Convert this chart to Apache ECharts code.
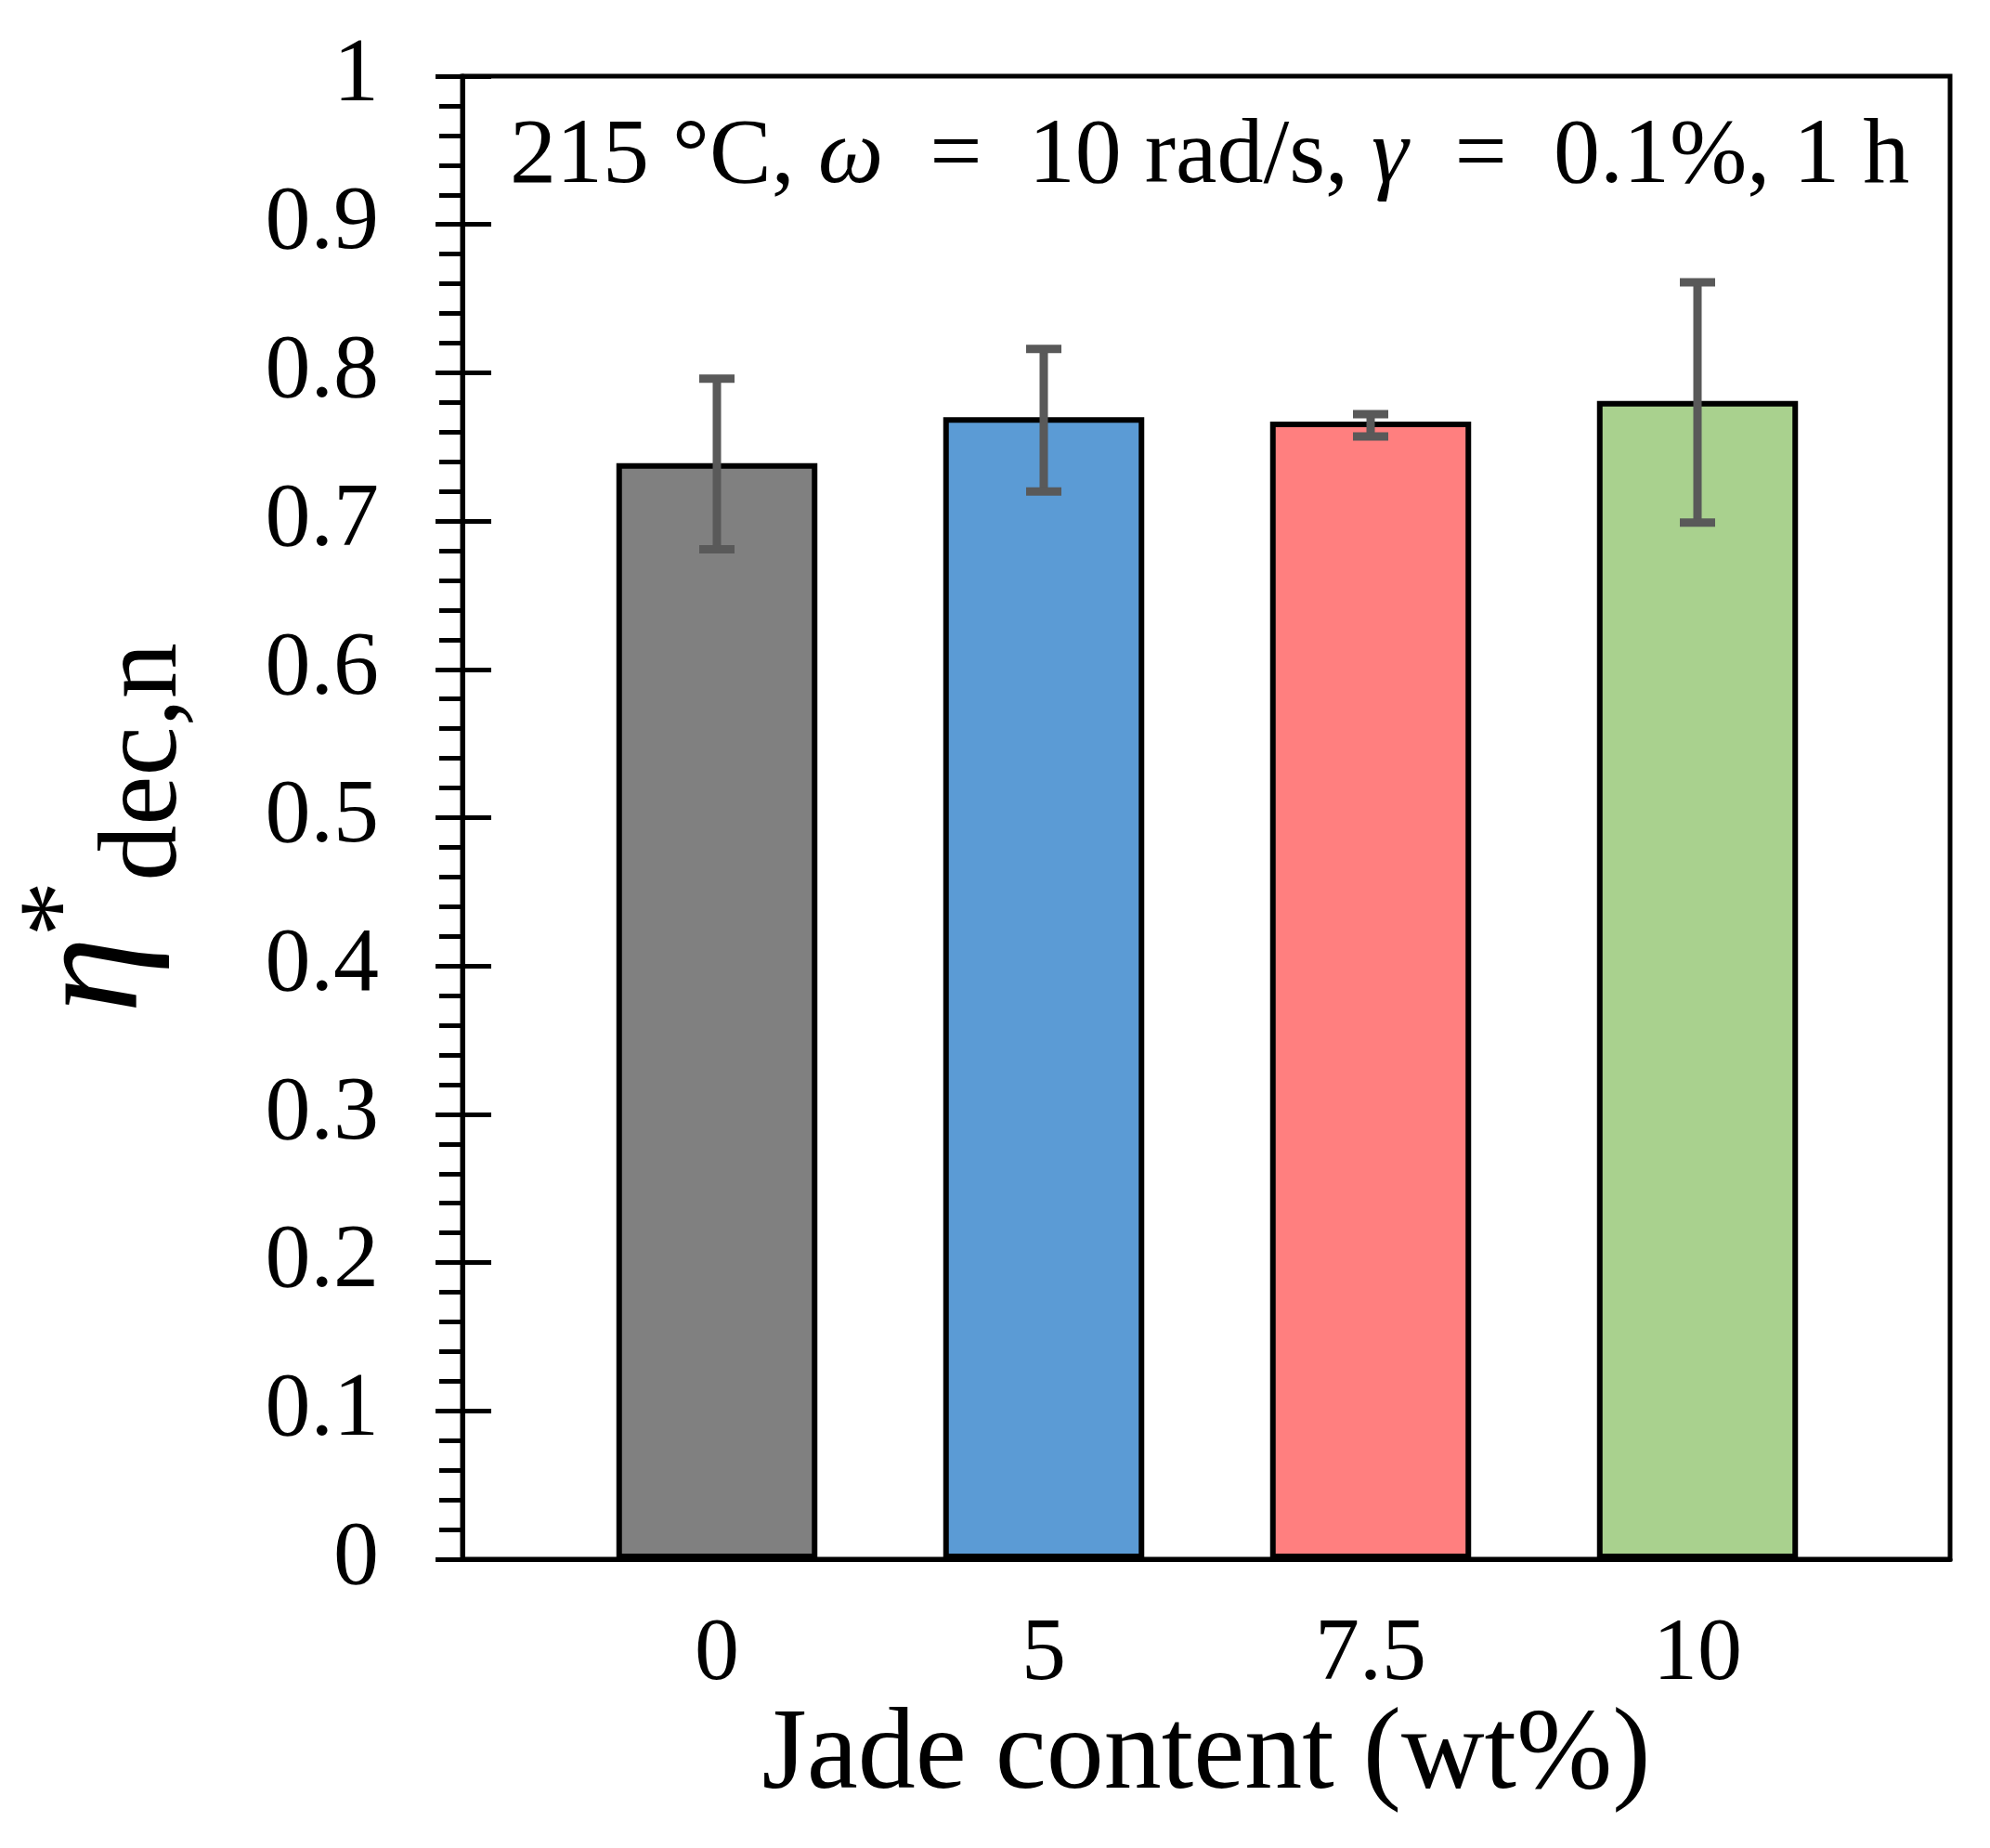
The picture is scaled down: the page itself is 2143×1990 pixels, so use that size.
<!DOCTYPE html>
<html>
<head>
<meta charset="utf-8">
<script src="https://cdn.jsdelivr.net/npm/echarts@6/dist/echarts.min.js"></script>
<style>html,body{margin:0;padding:0;background:#fff;}#c{width:2143px;height:1990px;}</style>
</head>
<body>
<div id="c"></div>
<script>
const categories = ['0', '5', '7.5', '10'];
const values = [0.739, 0.770, 0.767, 0.781];
const errLow = [0.681, 0.720, 0.757, 0.699];
const errHigh = [0.796, 0.816, 0.772, 0.861];
const barColors = ['#808080', '#5B9BD5', '#FF7F7F', '#A9D18E'];
const yTicks = [0, 0.1, 0.2, 0.3, 0.4, 0.5, 0.6, 0.7, 0.8, 0.9, 1];

const FONT = 'Liberation Serif';
const LW = 5;
const chart = echarts.init(document.getElementById('c'), null, {renderer: 'canvas'});

const option = {
  backgroundColor: '#fff',
  animation: false,
  title: {
    text: '215 °C, {i|ω}  =  10 rad/s, {i|γ}  =  0.1%, 1 h',
    left: 544, top: 115,
    textStyle: {
      fontFamily: FONT, fontSize: 100, fontWeight: 'normal', color: '#000', lineHeight: 100,
      rich: { i: { fontFamily: FONT, fontSize: 100, fontStyle: 'italic', color: '#000', lineHeight: 100 } }
    }
  },
  grid: [
    { left: 498, right: 43, top: 82, bottom: 311, show: true, borderColor: '#000', borderWidth: LW, backgroundColor: 'transparent', outerBoundsMode: 'none' },
    { left: 596, right: 139, top: 82, bottom: 311, outerBoundsMode: 'none' }
  ],
  xAxis: [
    { gridIndex: 0, type: 'value', min: 0, max: 1, show: true,
      axisLine: { show: true, lineStyle: { color: '#000', width: LW } },
      axisTick: { show: false }, axisLabel: { show: false }, splitLine: { show: false },
      name: 'Jade content (wt%)', nameLocation: 'middle', nameGap: 151,
      nameTextStyle: { fontFamily: FONT, fontSize: 124, color: '#000', lineHeight: 124 } },
    { gridIndex: 1, type: 'category', data: categories, boundaryGap: true,
      axisLine: { show: false }, axisTick: { show: false }, splitLine: { show: false },
      axisLabel: { fontFamily: FONT, fontSize: 96, color: '#000', margin: 56, lineHeight: 96 } }
  ],
  yAxis: [
    { gridIndex: 0, type: 'value', position: 'left', min: yTicks[0], max: yTicks[yTicks.length - 1], interval: 0.1,
      axisLine: { show: true, lineStyle: { color: '#000', width: LW } },
      axisTick: { show: true, inside: false, length: 29, lineStyle: { color: '#000', width: LW } },
      minorTick: { show: true, splitNumber: 5, length: 25, lineStyle: { color: '#000', width: LW } },
      splitLine: { show: false },
      axisLabel: { fontFamily: FONT, fontSize: 98, color: '#000', margin: 90, lineHeight: 98,
        formatter: v => String(+v.toFixed(1)) },
      name: '{eta|η}{sup|*}{sub|dec,n}', nameLocation: 'middle', nameRotate: 90, nameGap: 312,
      nameTextStyle: {
        rich: {
          eta: { fontFamily: FONT, fontStyle: 'italic', fontSize: 165, lineHeight: 165, color: '#000' },
          sup: { fontFamily: FONT, fontSize: 120, lineHeight: 120, color: '#000', padding: [0, 0, 64, 0] },
          sub: { fontFamily: FONT, fontSize: 120, lineHeight: 120, color: '#000', padding: [107, 22, 0, 0] }
        }
      } },
    { gridIndex: 0, type: 'value', position: 'left', offset: 0, min: 0, max: 1, interval: 0.1,
      axisLine: { show: false },
      axisTick: { show: true, inside: true, length: 31, lineStyle: { color: '#000', width: LW } },
      axisLabel: { show: false }, splitLine: { show: false } },
    { gridIndex: 1, type: 'value', min: 0, max: 1, show: false }
  ],
  series: [
    { type: 'bar', xAxisIndex: 1, yAxisIndex: 2, barWidth: '61.5%',
      data: values.map((v, i) => ({ value: v, itemStyle: { color: barColors[i] } })),
      itemStyle: { borderColor: '#000', borderWidth: 6 } },
    { type: 'custom', xAxisIndex: 1, yAxisIndex: 2, z: 5,
      data: categories.map((c, i) => [i, errLow[i], errHigh[i]]),
      renderItem: function (params, api) {
        const x = api.value(0);
        const lo = api.coord([x, api.value(1)]);
        const hi = api.coord([x, api.value(2)]);
        const hw = 19;
        const st = { stroke: '#595959', lineWidth: 9 };
        return { type: 'group', children: [
          { type: 'line', shape: { x1: lo[0], y1: lo[1], x2: hi[0], y2: hi[1] }, style: st },
          { type: 'line', shape: { x1: lo[0] - hw, y1: lo[1], x2: lo[0] + hw, y2: lo[1] }, style: st },
          { type: 'line', shape: { x1: hi[0] - hw, y1: hi[1], x2: hi[0] + hw, y2: hi[1] }, style: st }
        ] };
      } }
  ]
};
chart.setOption(option);
</script>
</body>
</html>
